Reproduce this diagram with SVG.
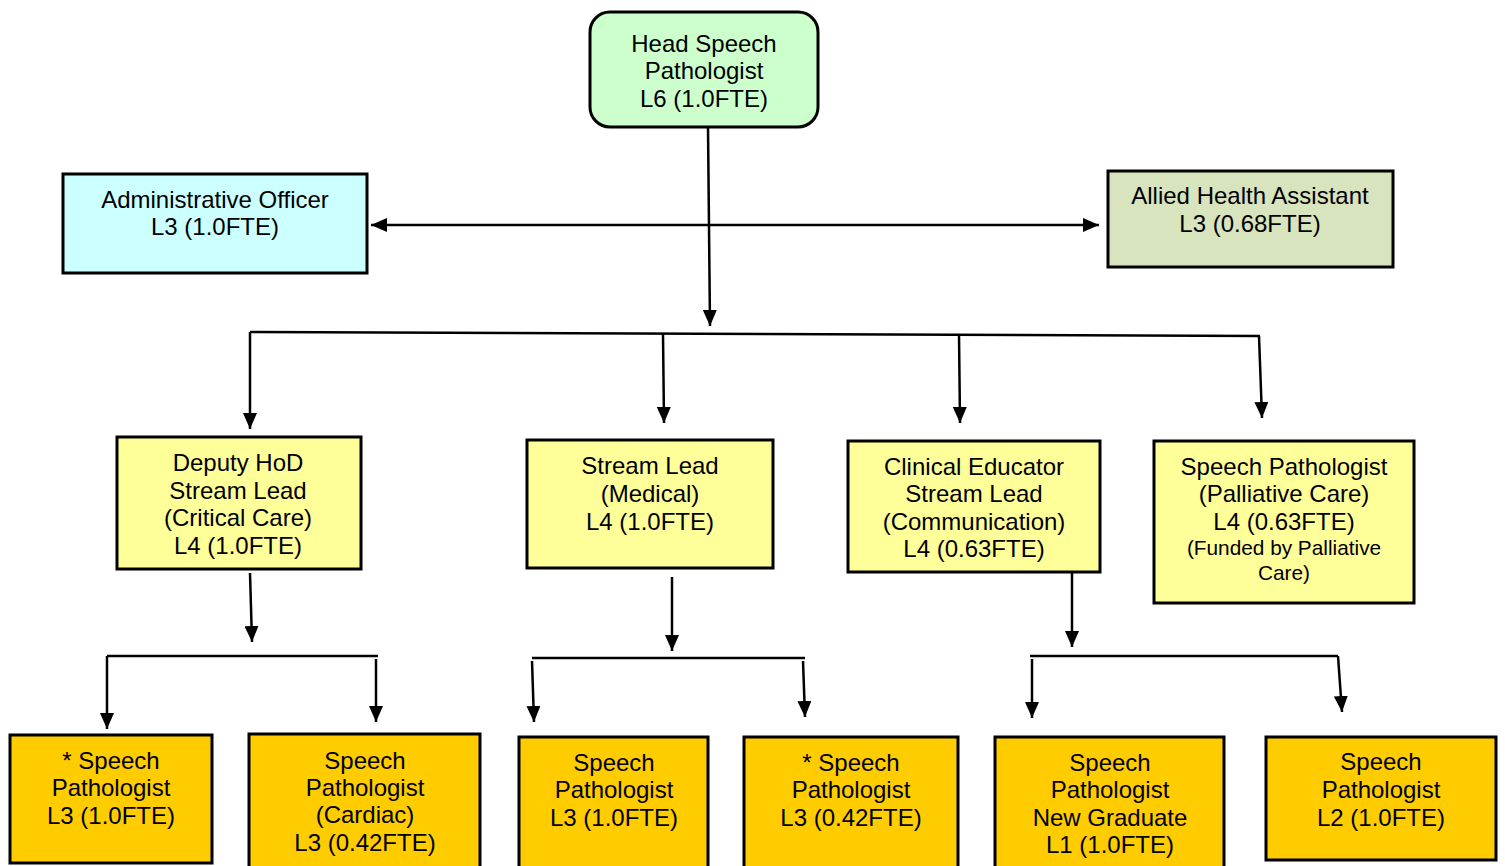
<svg xmlns="http://www.w3.org/2000/svg" width="1505" height="866" viewBox="0 0 1505 866">
<style>
.box{stroke:#000;stroke-width:3}
.t{font-family:"Liberation Sans",Arial,sans-serif;font-size:24px;fill:#000;text-anchor:middle}
.s{font-size:20.8px}
.c{fill:none;stroke:#000;stroke-width:2.5}
.a{marker-end:url(#ah)}
</style>
<defs>
<marker id="ah" viewBox="0 0 16 14" refX="16" refY="7" markerWidth="16" markerHeight="14" markerUnits="userSpaceOnUse" orient="auto-start-reverse">
<path d="M0,0 L16,7 L0,14 z" fill="#000"/>
</marker>
</defs>
<rect width="1505" height="866" fill="#fff"/>
<g id="connectors">
<path class="c a" d="M708,127 L710,326"/>
<path class="c" d="M371,225 L1099,225" marker-start="url(#ah)" marker-end="url(#ah)"/>
<path class="c" d="M250,332 L1260,336"/>
<path class="c a" d="M250,332 L250,429"/>
<path class="c a" d="M663,334 L664,423"/>
<path class="c a" d="M959,334 L960,423"/>
<path class="c a" d="M1259,336 L1262,418"/>
<path class="c a" d="M250,573 L252,642"/>
<path class="c a" d="M672,577 L672,651"/>
<path class="c a" d="M1072,573 L1072,647"/>
<path class="c" d="M107,656 L378,656"/>
<path class="c a" d="M107,656 L107,729"/>
<path class="c a" d="M376,659 L376,722"/>
<path class="c" d="M532,658 L805,658"/>
<path class="c a" d="M532,661 L534,722"/>
<path class="c a" d="M803,661 L805,717"/>
<path class="c" d="M1030,656 L1338,656"/>
<path class="c a" d="M1032,659 L1032,718"/>
<path class="c a" d="M1338,656 L1342,712"/>
</g>
<g id="head">
<rect class="box" x="590" y="12" width="228" height="115" rx="20" fill="#ccffcc"/>
<text class="t" x="704" y="52">Head Speech</text>
<text class="t" x="704" y="79">Pathologist</text>
<text class="t" x="704" y="107">L6 (1.0FTE)</text>
</g>
<g id="admin">
<rect class="box" x="63" y="174" width="304" height="99" fill="#ccffff"/>
<text class="t" x="215" y="208">Administrative Officer</text>
<text class="t" x="215" y="235">L3 (1.0FTE)</text>
</g>
<g id="aha">
<rect class="box" x="1108" y="171" width="285" height="96" fill="#d7e4bd"/>
<text class="t" x="1250" y="204">Allied Health Assistant</text>
<text class="t" x="1250" y="232">L3 (0.68FTE)</text>
</g>
<g id="deputy">
<rect class="box" x="117" y="437" width="244" height="132" fill="#ffff99"/>
<text class="t" x="238" y="471">Deputy HoD</text>
<text class="t" x="238" y="499">Stream Lead</text>
<text class="t" x="238" y="526">(Critical Care)</text>
<text class="t" x="238" y="554">L4 (1.0FTE)</text>
</g>
<g id="medical">
<rect class="box" x="527" y="440" width="246" height="128" fill="#ffff99"/>
<text class="t" x="650" y="474">Stream Lead</text>
<text class="t" x="650" y="502">(Medical)</text>
<text class="t" x="650" y="530">L4 (1.0FTE)</text>
</g>
<g id="clinical">
<rect class="box" x="848" y="441" width="252" height="131" fill="#ffff99"/>
<text class="t" x="974" y="475">Clinical Educator</text>
<text class="t" x="974" y="502">Stream Lead</text>
<text class="t" x="974" y="530">(Communication)</text>
<text class="t" x="974" y="557">L4 (0.63FTE)</text>
</g>
<g id="palliative">
<rect class="box" x="1154" y="441" width="260" height="162" fill="#ffff99"/>
<text class="t" x="1284" y="475">Speech Pathologist</text>
<text class="t" x="1284" y="502">(Palliative Care)</text>
<text class="t" x="1284" y="530">L4 (0.63FTE)</text>
<text class="t s" x="1284" y="555">(Funded by Palliative</text>
<text class="t s" x="1284" y="580">Care)</text>
</g>
<g id="sp1">
<rect class="box" x="10" y="735" width="202" height="128" fill="#ffcc00"/>
<text class="t" x="111" y="769">* Speech</text>
<text class="t" x="111" y="796">Pathologist</text>
<text class="t" x="111" y="824">L3 (1.0FTE)</text>
</g>
<g id="sp2">
<rect class="box" x="249" y="734" width="231" height="134" fill="#ffcc00"/>
<text class="t" x="365" y="769">Speech</text>
<text class="t" x="365" y="796">Pathologist</text>
<text class="t" x="365" y="823">(Cardiac)</text>
<text class="t" x="365" y="851">L3 (0.42FTE)</text>
</g>
<g id="sp3">
<rect class="box" x="519" y="737" width="189" height="131" fill="#ffcc00"/>
<text class="t" x="614" y="771">Speech</text>
<text class="t" x="614" y="798">Pathologist</text>
<text class="t" x="614" y="826">L3 (1.0FTE)</text>
</g>
<g id="sp4">
<rect class="box" x="744" y="737" width="214" height="131" fill="#ffcc00"/>
<text class="t" x="851" y="771">* Speech</text>
<text class="t" x="851" y="798">Pathologist</text>
<text class="t" x="851" y="826">L3 (0.42FTE)</text>
</g>
<g id="sp5">
<rect class="box" x="995" y="737" width="229" height="131" fill="#ffcc00"/>
<text class="t" x="1110" y="771">Speech</text>
<text class="t" x="1110" y="798">Pathologist</text>
<text class="t" x="1110" y="826">New Graduate</text>
<text class="t" x="1110" y="853">L1 (1.0FTE)</text>
</g>
<g id="sp6">
<rect class="box" x="1266" y="737" width="230" height="123" fill="#ffcc00"/>
<text class="t" x="1381" y="770">Speech</text>
<text class="t" x="1381" y="798">Pathologist</text>
<text class="t" x="1381" y="826">L2 (1.0FTE)</text>
</g>
</svg>
